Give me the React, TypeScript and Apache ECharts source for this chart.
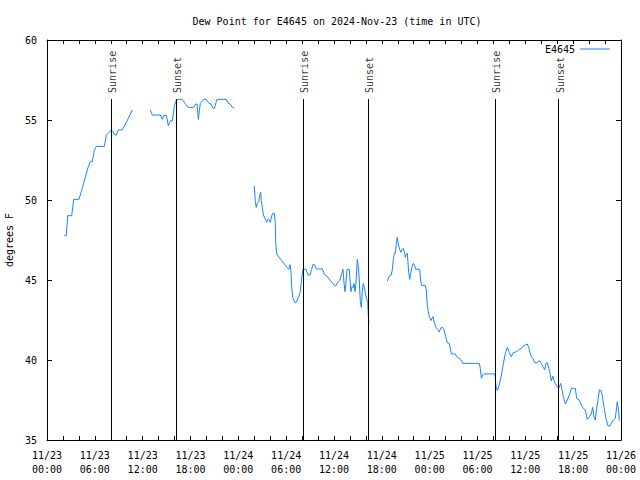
import React, { useEffect, useRef } from "react";
import * as echarts from "echarts";

// hours since 2024-11-23 00:00 UTC
const seg1Hours = [2.17, 2.42, 2.6, 3.1, 3.35, 4.01, 4.35, 4.77, 5.18, 5.43, 5.68, 5.93, 6.18, 7.19, 7.44, 7.69, 8.03, 8.28, 8.53, 8.69, 8.94, 9.45, 9.78, 10.2, 10.7];
const seg1Values = [47.77, 47.77, 49.02, 49.02, 50.04, 50.04, 50.6, 51.35, 52.08, 52.4, 52.4, 53.1, 53.35, 53.35, 54.06, 54.17, 54.38, 54.27, 54.06, 54.06, 54.38, 54.38, 54.69, 55.1, 55.63];

const seg2Hours = [12.96, 13.21, 14.21, 14.46, 14.64, 14.97, 15.22, 15.47, 15.72, 15.97, 16.22, 16.47, 16.97, 17.31, 17.72, 18.4, 18.65, 18.82, 18.98, 19.23, 19.66, 19.98, 20.32, 20.57, 20.82, 20.99, 21.32, 22.49, 22.74, 22.99, 23.24, 23.5];
const seg2Values = [55.63, 55.31, 55.31, 55.04, 55.29, 55.29, 54.63, 54.94, 54.94, 55.83, 56.25, 56.29, 56.29, 56.04, 55.79, 55.79, 56.0, 56.0, 55.04, 56.04, 56.29, 56.29, 56.04, 56.0, 55.73, 55.73, 56.29, 56.29, 56.04, 56.0, 55.79, 55.73];

const seg3Hours = [26.0, 26.13, 26.25, 26.38, 26.55, 26.68, 26.81, 26.88, 27.01, 27.13, 27.34, 27.56, 27.72, 27.89, 28.01, 28.19, 28.31, 28.51, 28.64, 28.69, 28.81, 29.1, 29.44, 29.77, 30.14, 30.32, 30.48, 30.61, 30.69, 30.86, 31.07, 31.27, 31.48, 31.74, 31.86, 31.99, 32.11, 32.49, 32.74, 32.99, 33.2, 33.37, 33.53, 33.78, 34.53, 34.79, 35.09, 35.5, 36.0, 36.21, 36.46, 36.72, 36.92, 37.13, 37.26, 37.38, 37.47, 37.63, 37.92, 38.01, 38.13, 38.26, 38.42, 38.51, 38.64, 38.76, 38.85, 38.92, 39.05, 39.17, 39.3, 39.43, 39.55, 39.68, 39.85, 39.98, 40.14, 40.23, 40.31, 40.39];
const seg3Values = [50.88, 49.9, 49.54, 49.79, 49.9, 50.29, 50.48, 49.96, 49.54, 49.06, 48.85, 48.6, 48.81, 48.75, 48.6, 49.0, 49.17, 49.17, 48.54, 47.33, 46.63, 46.42, 46.21, 46.0, 45.79, 45.67, 45.96, 45.52, 44.54, 43.85, 43.6, 43.6, 43.85, 44.2, 44.69, 45.31, 45.67, 45.67, 45.31, 45.31, 45.67, 45.98, 45.98, 45.69, 45.69, 45.35, 45.25, 45.0, 44.69, 44.63, 44.85, 44.96, 45.31, 45.67, 44.79, 44.27, 44.69, 45.67, 45.67, 45.0, 44.27, 44.58, 44.54, 44.79, 44.27, 44.79, 45.73, 46.29, 45.83, 45.0, 43.65, 43.29, 44.33, 44.79, 44.38, 44.06, 43.75, 43.54, 42.71, 42.33];

const seg4Hours = [42.69, 42.94, 43.19, 43.31, 43.44, 43.57, 43.69, 43.82, 43.94, 44.07, 44.24, 44.37, 44.57, 44.69, 44.87, 44.95, 45.07, 45.2, 45.28, 45.37, 45.5, 45.62, 45.79, 45.95, 46.13, 46.25, 46.75, 46.88, 47.0, 47.45, 47.58, 47.7, 47.83, 47.95, 48.17, 48.29, 48.42, 48.54, 48.8, 49.05, 49.21, 49.39, 49.64, 49.8, 50.01, 50.21, 50.46, 50.72, 51.22, 51.39, 51.64, 51.89, 52.14, 54.23, 54.35, 54.48, 54.66, 54.78, 56.2, 56.24, 56.33, 56.5, 56.75, 57.0, 57.25, 57.5, 57.74, 57.99, 58.24, 58.49, 58.74, 58.99, 59.24, 59.5, 59.75, 60.0, 60.25, 60.42, 60.67, 60.93, 61.18, 61.5, 61.75, 62.0, 62.26, 62.43, 62.59, 62.76, 62.94, 63.1, 63.26, 63.44, 63.6, 63.77, 64.02, 64.19, 64.44, 64.6, 64.77, 65.02, 65.27, 65.52, 65.77, 66.27, 66.44, 66.77, 67.02, 67.27, 67.52, 67.77, 68.02, 68.27, 68.45, 68.61, 68.78, 68.95, 69.2, 69.28, 69.53, 69.7, 69.87, 70.12, 70.37, 70.62, 70.78, 71.04, 71.29, 71.45, 71.53, 71.71, 71.78];
const seg4Values = [44.94, 45.25, 45.31, 45.63, 46.29, 46.67, 46.67, 47.29, 47.67, 47.19, 46.92, 46.73, 46.92, 46.98, 46.67, 46.42, 46.6, 46.67, 46.08, 45.46, 45.04, 45.42, 45.83, 46.04, 45.88, 45.67, 45.67, 44.9, 44.67, 44.67, 44.38, 43.44, 43.02, 42.71, 42.46, 42.6, 42.71, 42.4, 42.04, 41.88, 41.75, 42.0, 42.04, 41.88, 41.46, 41.08, 41.04, 40.38, 40.38, 40.21, 40.13, 40.04, 39.79, 39.79, 39.48, 38.85, 39.06, 39.13, 39.13, 38.79, 38.33, 38.08, 38.5, 39.06, 39.79, 40.42, 40.79, 40.46, 40.21, 40.48, 40.48, 40.56, 40.67, 40.73, 40.88, 40.94, 41.0, 40.79, 40.31, 40.1, 39.83, 39.83, 39.96, 39.79, 39.54, 39.38, 39.79, 39.83, 39.48, 39.17, 38.69, 39.0, 38.71, 38.5, 38.33, 38.23, 38.54, 38.13, 37.71, 37.25, 37.5, 37.81, 38.23, 38.23, 37.6, 37.5, 37.19, 36.98, 36.88, 36.29, 36.46, 36.63, 37.04, 36.46, 36.25, 36.98, 37.81, 38.13, 38.08, 37.6, 37.04, 36.35, 35.88, 35.88, 36.04, 36.25, 36.35, 37.04, 37.39, 36.77, 36.21];

const sunEventHours = [8.03, 16.22, 32.11, 40.31, 56.24, 64.19];
const sunEventNames = ["Sunrise", "Sunset", "Sunrise", "Sunset", "Sunrise", "Sunset"];
const sunLineTop = 56.31;
const sunLabelBase = 56.69;

const seriesName = "E4645";
const titleText = "Dew Point for E4645 on 2024-Nov-23 (time in UTC)";
const yAxisName = "degrees F";

const FONT = "DejaVu Sans Mono";
const LINE_COLOR = "#1a84ff";

export default function App() {
  const ref = useRef<HTMLDivElement>(null);
  useEffect(() => {
    if (!ref.current) return;
    document.body.style.margin = "0";
    const chart = echarts.init(ref.current, undefined, { renderer: "svg" });
    const segs = [
      [seg1Hours, seg1Values],
      [seg2Hours, seg2Values],
      [seg3Hours, seg3Values],
      [seg4Hours, seg4Values],
    ];
    const data: any[] = [];
    segs.forEach(([h, v], i) => {
      h.forEach((x, j) => data.push([x, v[j]]));
      if (i < segs.length - 1) data.push([h[h.length - 1] + 0.01, null]);
    });
    const xFmt = (v: number) => {
      const day = 23 + Math.floor(v / 24);
      const hh = v % 24;
      return `11/${day}\n${String(hh).padStart(2, "0")}:00`;
    };
    const xCommon = {
      type: "value",
      min: 0,
      max: 72,
      interval: 6,
      axisLine: { show: true, onZero: false, lineStyle: { color: "#000", width: 1 } },
      axisTick: { show: true, inside: true, length: 4, lineStyle: { color: "#000" } },
      minorTick: { show: true, splitNumber: 3, length: 4, lineStyle: { color: "#000" } },
      splitLine: { show: false },
    };
    const yCommon = {
      type: "value",
      min: 35,
      max: 60,
      interval: 5,
      axisLine: { show: true, onZero: false, lineStyle: { color: "#000", width: 1 } },
      axisTick: { show: true, inside: true, length: 5, lineStyle: { color: "#000" } },
      splitLine: { show: false },
    };
    chart.setOption({
      animation: false,
      backgroundColor: "#fff",
      textStyle: { fontFamily: FONT },
      title: {
        text: titleText,
        left: 332,
        top: 11,
        textAlign: "center",
        textStyle: { fontFamily: FONT, fontSize: 10, fontWeight: "normal", color: "#000" },
      },
      legend: {
        data: [{ name: seriesName, icon: "rect" }],
        right: 25,
        top: 39,
        align: "right",
        itemWidth: 30,
        itemHeight: 1,
        itemGap: 6,
        textStyle: { fontFamily: FONT, fontSize: 10, color: "#000", padding: [0, 0, 0, 0] },
      },
      grid: { left: 47, right: 19, top: 40, bottom: 40, containLabel: false, outerBoundsMode: "none" },
      xAxis: [
        {
          ...xCommon,
          position: "bottom",
          axisLabel: {
            show: true,
            margin: 8,
            formatter: xFmt,
            fontFamily: FONT,
            fontSize: 10,
            lineHeight: 14,
            color: "#000",
          },
        },
        { ...xCommon, position: "top", axisLabel: { show: false } },
      ],
      yAxis: [
        {
          ...yCommon,
          position: "left",
          name: yAxisName,
          nameLocation: "middle",
          nameGap: 31,
          nameTextStyle: { fontFamily: FONT, fontSize: 10, color: "#000" },
          axisLabel: { show: true, margin: 10, fontFamily: FONT, fontSize: 10, color: "#000" },
        },
        { ...yCommon, position: "right", axisLabel: { show: false } },
      ],
      series: [
        {
          name: seriesName,
          type: "line",
          data,
          symbol: "none",
          connectNulls: false,
          lineStyle: { color: LINE_COLOR, width: 1 },
          itemStyle: { color: LINE_COLOR },
          markLine: {
            silent: true,
            symbol: ["none", "none"],
            label: { show: false },
            lineStyle: { color: "#000", width: 1, type: "solid" },
            data: sunEventHours.map((h) => [
              { coord: [h, 35] },
              { coord: [h, sunLineTop] },
            ]),
          },
        },
        {
          name: "sun",
          type: "scatter",
          symbolSize: 0,
          silent: true,
          data: sunEventHours.map((h, i) => [h, sunLabelBase, sunEventNames[i]]),
          label: {
            show: true,
            position: [1.5, 0],
            rotate: 90,
            align: "left",
            verticalAlign: "middle",
            formatter: (p: any) => p.data[2],
            fontFamily: FONT,
            fontSize: 10,
            color: "#000",
          },
        },
      ],
    });
    return () => chart.dispose();
  }, []);
  return <div ref={ref} style={{ width: 640, height: 480 }} />;
}
